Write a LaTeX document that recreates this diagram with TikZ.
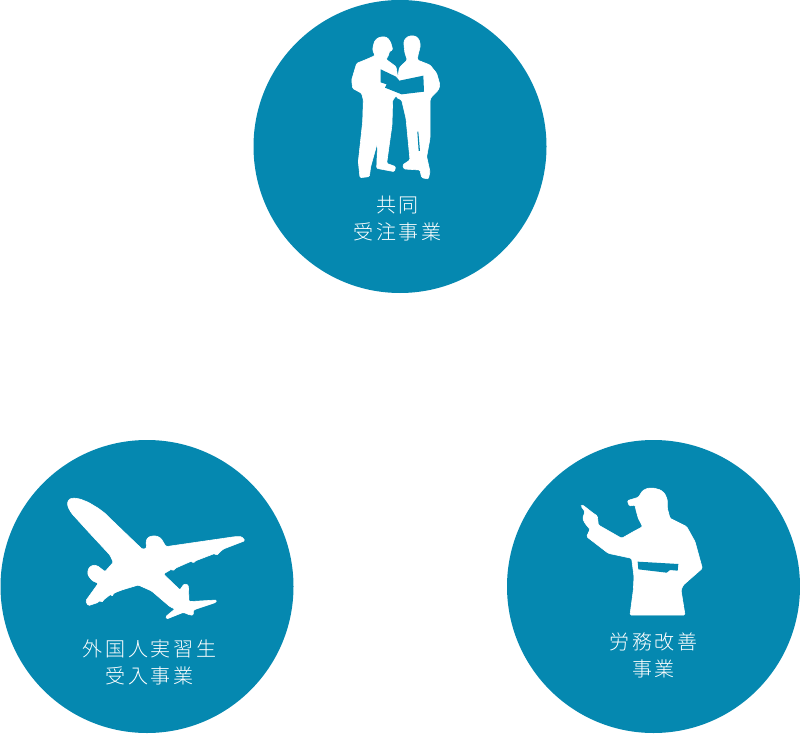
\documentclass[tikz,border=0pt]{standalone}
\usepackage{fontspec}
\newfontfamily\cjk[LetterSpace=14]{Noto Sans CJK JP Light}
\definecolor{circblue}{HTML}{0588B0}
\begin{document}
\begin{tikzpicture}[x=1pt, y=-1pt,
    circ/.style={circle, fill=circblue, minimum size=293pt, inner sep=0pt},
    sil/.style={fill=white, draw=white, line width=0.6pt, rounded corners=1.2pt},
    gap/.style={fill=circblue},
    lbl/.style={text=white, align=center, inner sep=0pt, font=\cjk\fontsize{20}{27}\selectfont}]
    \useasboundingbox (0,0) rectangle (800,735);

    \node[circ] (kyodo) at (400,146.5) {};
    \node[circ] (gaikoku) at (147,586.5) {};
    \node[circ] (roumu) at (653.5,586.5) {};

    % two workers
    \begin{scope}[shift={(330,25)}, scale=1/3]
        \draw[sil] (130,62) -- (134,48) -- (145,38) -- (160,35) -- (172,38) -- (181,50) -- (185,62) -- (188,75) -- (178,79) -- (176,90) -- (168,103) -- (198,125) -- (203,155) -- (205,205) -- (188,225) -- (186,300) -- (170,415) -- (197,425) -- (193,440) -- (140,430) -- (143,350) -- (122,425) -- (118,455) -- (90,458) -- (85,410) -- (98,290) -- (100,225) -- (95,205) -- (68,190) -- (65,165) -- (80,115) -- (105,105) -- (135,92) -- (128,75) -- cycle;
        \draw[sil] (222,62) -- (222,48) -- (230,37) -- (243,32) -- (258,34) -- (268,45) -- (271,62) -- (268,75) -- (264,90) -- (262,105) -- (300,120) -- (320,145) -- (330,180) -- (325,195) -- (305,215) -- (300,225) -- (300,340) -- (290,395) -- (300,440) -- (295,462) -- (275,458) -- (270,435) -- (222,432) -- (218,420) -- (240,405) -- (228,280) -- (215,225) -- (200,218) -- (195,190) -- (204,155) -- (208,128) -- (232,105) -- (225,85) -- cycle;
        \fill[gap] (152,133) -- (198,155) -- (208,167) -- (280,152) -- (282,200) -- (215,208) -- (165,188) -- (170,178) -- (152,172) -- cycle;
        \fill[gap] (262,320) -- (265,320) -- (270,378) -- (266,378) -- cycle;
    \end{scope}

    % airplane
    \begin{scope}[shift={(55,485)}, scale=1/3]
        \draw[sil] (37,55) -- (42,43) -- (55,39) -- (75,42) -- (100,52) -- (130,70) -- (150,85) -- (165,100) -- (262,193) -- (275,190) -- (273,170) -- (278,158) -- (290,153) -- (305,153) -- (318,160) -- (333,185) -- (540,155) -- (560,155) -- (570,167) -- (505,192) -- (490,205) -- (485,212) -- (480,205) -- (420,228) -- (415,235) -- (410,228) -- (360,250) -- (355,258) -- (350,252) -- (325,267) -- (375,315) -- (387,297) -- (400,300) -- (402,350) -- (485,345) -- (483,352) -- (415,375) -- (415,390) -- (405,390) -- (385,382) -- (335,402) -- (332,395) -- (360,372) -- (345,365) -- (290,318) -- (250,300) -- (200,315) -- (175,325) -- (172,335) -- (168,327) -- (145,345) -- (140,353) -- (135,345) -- (130,352) -- (100,362) -- (92,348) -- (130,295) -- (112,287) -- (100,272) -- (98,262) -- (102,248) -- (115,240) -- (128,243) -- (150,260) -- (175,232) -- (165,210) -- (100,140) -- (50,85) -- (40,68) -- cycle;
    \end{scope}

    % man pointing
    \begin{scope}[shift={(570,480)}, scale=1/3]
        \draw[sil] (33,78) -- (38,75) -- (70,100) -- (82,108) -- (85,135) -- (155,175) -- (190,155) -- (218,140) -- (205,115) -- (198,90) -- (195,75) -- (178,78) -- (172,62) -- (205,52) -- (218,32) -- (232,25) -- (250,24) -- (272,30) -- (285,42) -- (292,60) -- (292,85) -- (300,115) -- (350,140) -- (375,185) -- (397,265) -- (340,315) -- (333,330) -- (345,405) -- (180,405) -- (190,330) -- (192,290) -- (185,235) -- (115,220) -- (50,170) -- (60,148) -- (45,130) -- (38,115) -- (45,95) -- cycle;
        \fill[gap] (203,245) -- (325,252) -- (323,272) -- (300,270) -- (290,278) -- (205,268) -- cycle;
    \end{scope}

    \node[lbl] (kyodotxt) at (397.5,219) {共同\\受注事業};
    \node[lbl] (gaikokutxt) at (149.5,662) {外国人実習生\\受入事業};
    \node[lbl] (roumutxt) at (653.5,655) {労務改善\\事業};
\end{tikzpicture}
\end{document}
